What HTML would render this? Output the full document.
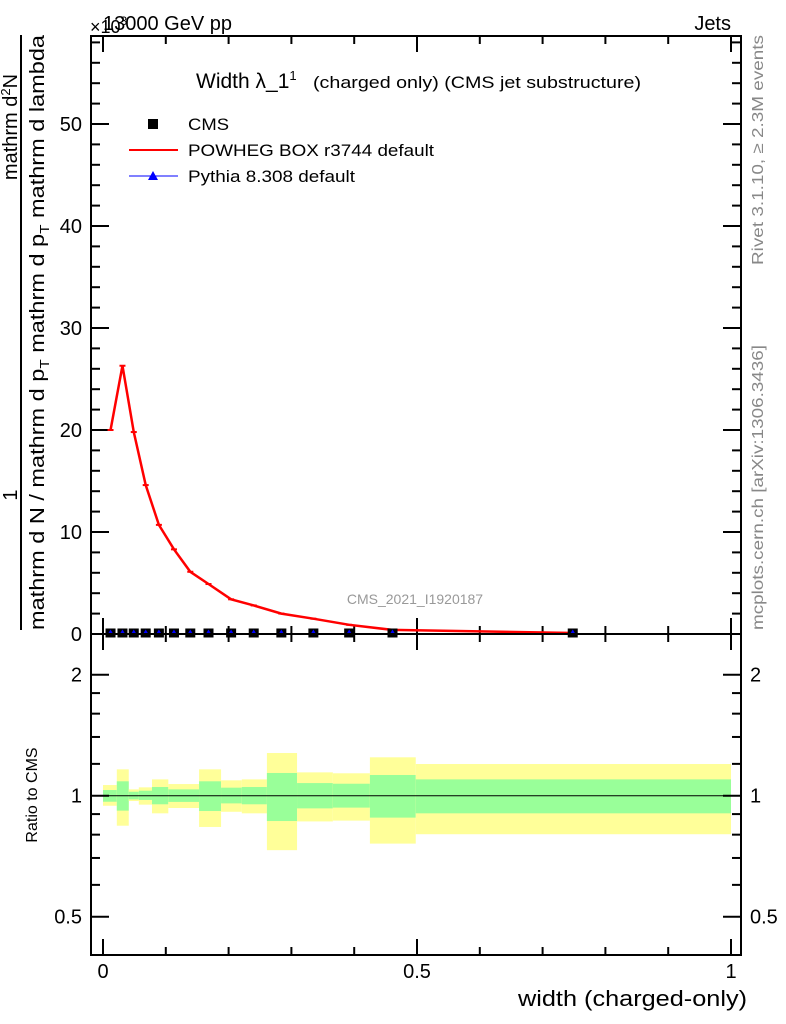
<!DOCTYPE html>
<html><head><meta charset="utf-8"><style>
body{margin:0;background:#fff;}
svg{display:block;font-family:"Liberation Sans",sans-serif;}
</style></head><body>
<svg id="chart" width="786" height="1024" viewBox="0 0 786 1024" xmlns="http://www.w3.org/2000/svg">
<g id="main"></g>
<g id="ratio"></g>
<g id="labels">
<text x="103" y="30" font-size="20">13000 GeV pp</text>
<text x="90" y="33" font-size="18">×10<tspan font-size="12" dy="-8">3</tspan></text>
<text x="731" y="30" font-size="20" text-anchor="end">Jets</text>
<text x="196" y="88" font-size="21">Width λ_1<tspan font-size="13" dy="-8">1</tspan><tspan font-size="17" dy="8" x="313" textLength="328" lengthAdjust="spacingAndGlyphs">(charged only) (CMS jet substructure)</tspan></text>
<text x="415" y="604" font-size="14" fill="#999" text-anchor="middle">CMS_2021_I1920187</text>
<text x="518" y="1006" font-size="22" textLength="229" lengthAdjust="spacingAndGlyphs">width (charged-only)</text>
<text transform="translate(37,795) rotate(-90)" font-size="16" text-anchor="middle">Ratio to CMS</text>
<text transform="translate(763,265) rotate(-90)" font-size="16" fill="#888" textLength="230" lengthAdjust="spacingAndGlyphs">Rivet 3.1.10, ≥ 2.3M events</text>
<text transform="translate(763,630) rotate(-90)" font-size="16" fill="#888" textLength="285" lengthAdjust="spacingAndGlyphs">mcplots.cern.ch [arXiv:1306.3436]</text>
<g font-size="20">
<line x1="21" y1="630" x2="21" y2="35" stroke="#000" stroke-width="2"/>
<text transform="translate(17,495) rotate(-90)" text-anchor="middle">1</text>
<text transform="translate(17,127) rotate(-90)" text-anchor="middle">mathrm d<tspan font-size="13" dy="-7">2</tspan><tspan dy="7">N</tspan></text>
<text transform="translate(44,630) rotate(-90)" textLength="595" lengthAdjust="spacingAndGlyphs">mathrm d N / mathrm d p<tspan font-size="13" dy="5">T</tspan><tspan dy="-5"> mathrm d p</tspan><tspan font-size="13" dy="5">T</tspan><tspan dy="-5"> mathrm d lambda</tspan></text>
</g>
<g font-size="17">
<rect x="148" y="119" width="10" height="10" fill="#000"/>
<text x="188" y="130" textLength="41" lengthAdjust="spacingAndGlyphs">CMS</text>
<line x1="129" y1="150" x2="178" y2="150" stroke="#f00" stroke-width="2"/>
<text x="188" y="156" textLength="246" lengthAdjust="spacingAndGlyphs">POWHEG BOX r3744 default</text>
<line x1="129" y1="176" x2="178" y2="176" stroke="#00f" stroke-width="1"/>
<polygon points="153,171 158,180 148,180" fill="#00f"/>
<text x="188" y="182" textLength="167" lengthAdjust="spacingAndGlyphs">Pythia 8.308 default</text>
</g>
</g>
</svg>
<script>
// data
const binCenters=[0.012,0.031,0.049,0.068,0.089,0.113,0.139,0.168,0.204,0.24,0.284,0.335,0.392,0.461,0.748];
const powhegValues=[20.0,26.3,19.8,14.6,10.7,8.3,6.1,4.9,3.4,2.8,2.0,1.5,0.9,0.4,0.1];
const cmsValues=[0.05,0.05,0.05,0.05,0.05,0.05,0.05,0.05,0.05,0.05,0.05,0.05,0.05,0.05,0.05];
const ratioEdges=[0,0.022,0.041,0.057,0.078,0.104,0.153,0.188,0.221,0.261,0.309,0.366,0.425,0.498,1.0];
const yellowUp=[1.063,1.163,1.037,1.049,1.098,1.069,1.163,1.092,1.098,1.277,1.143,1.137,1.246,1.199];
const yellowDn=[0.944,0.842,0.970,0.950,0.904,0.932,0.836,0.912,0.904,0.732,0.863,0.867,0.760,0.802];
const greenUp=[1.033,1.086,1.023,1.029,1.051,1.037,1.086,1.047,1.051,1.139,1.075,1.071,1.126,1.098];
const greenDn=[0.966,0.918,0.979,0.976,0.952,0.965,0.916,0.957,0.952,0.865,0.930,0.934,0.882,0.904];
const mainYTicks=[0,10,20,30,40,50];
const ratioTicks=[0.5,1,2];
const xTicks=[0,0.5,1];

const NS="http://www.w3.org/2000/svg";
const L=91,R=741,MT=36,MB=634,RB=955;
const xs=v=>103+v*628;
const ys=v=>634-v*10.2;
const yr=v=>795.7-121*Math.log2(v);
function mk(p,t,a){const e=document.createElementNS(NS,t);for(const k in a)e.setAttribute(k,a[k]);p.appendChild(e);return e;}
const main=document.getElementById('main'),ratio=document.getElementById('ratio');

// ratio bands
ratioEdges.slice(0,-1).forEach((e,i)=>{
 const x0=xs(e),x1=xs(ratioEdges[i+1]);
 const y=mk(ratio,'rect',{x:x0,y:yr(yellowUp[i]),width:x1-x0,height:yr(yellowDn[i])-yr(yellowUp[i]),fill:'#ffff99'});
 
 
 const g=mk(ratio,'rect',{x:x0,y:yr(greenUp[i]),width:x1-x0,height:yr(greenDn[i])-yr(greenUp[i]),fill:'#99ff99'});
 
 
});
mk(ratio,'line',{x1:L,x2:R,y1:yr(1),y2:yr(1),stroke:'#000','stroke-width':1});

// frames
mk(main,'rect',{x:L,y:MT,width:R-L,height:MB-MT,fill:'none',stroke:'#000','stroke-width':2});
mk(ratio,'rect',{x:L,y:MB,width:R-L,height:RB-MB,fill:'none',stroke:'#000','stroke-width':2});

// x ticks
for(let i=0;i<=10;i++){const v=i/10,x=xs(v),len=i%5==0?16:8;
 [[MB,-1],[MT,1],[RB,-1]].forEach(([y,d])=>mk(main,'line',{x1:x,x2:x,y1:y,y2:y+d*len,stroke:'#000','stroke-width':2}));
 mk(main,'line',{x1:x,x2:x,y1:MB,y2:MB+(i%5==0?16:8),stroke:'#000','stroke-width':2});
}
xTicks.forEach(v=>{const t=mk(main,'text',{x:xs(v),y:978,'font-size':20,'text-anchor':'middle'});t.textContent=String(v);
 
 });

// main y ticks
for(let v=0;v<=58;v+=2){const y=ys(v);if(y<MT)break;const len=v%10==0?18:9;
 mk(main,'line',{x1:L,x2:L+len,y1:y,y2:y,stroke:'#000','stroke-width':2});
 mk(main,'line',{x1:R,x2:R-len,y1:y,y2:y,stroke:'#000','stroke-width':2});}
mainYTicks.forEach(v=>{const t=mk(main,'text',{x:82,y:ys(v)+7,'font-size':20,'text-anchor':'end'});t.textContent=v;
 
 });

// ratio ticks
[0.5,0.6,0.7,0.8,0.9,1,1.2,1.4,1.6,1.8,2].forEach(v=>{const y=yr(v),len=[0.5,1,2].includes(v)?18:9;
 mk(ratio,'line',{x1:L,x2:L+len,y1:y,y2:y,stroke:'#000','stroke-width':2});
 mk(ratio,'line',{x1:R,x2:R-len,y1:y,y2:y,stroke:'#000','stroke-width':2});});
ratioTicks.forEach(v=>{[[82,'end'],[750,'start']].forEach(([x,a])=>{const t=mk(ratio,'text',{x:x,y:yr(v)+7,'font-size':20,'text-anchor':a});t.textContent=v;
 
 });});

// POWHEG line
const pl=mk(main,'polyline',{points:binCenters.map((c,i)=>xs(c)+','+ys(powhegValues[i])).join(' '),fill:'none',stroke:'#f00','stroke-width':2.5});


binCenters.forEach((c,i)=>{const x=xs(c),y=ys(powhegValues[i]);
 mk(main,'line',{x1:x-3,x2:x+3,y1:y,y2:y,stroke:'#f00','stroke-width':2});});

// CMS + Pythia markers
binCenters.forEach((c,i)=>{const x=xs(c),y=ys(cmsValues[i]);
 const r=mk(main,'rect',{x:x-5,y:y-5,width:10,height:9,fill:'#000'});
 
 
 const p=mk(main,'polygon',{points:`${x},${y-4} ${x+3},${y+1} ${x-3},${y+1}`,fill:'#00f'});
 
 });
</script>
</body></html>
